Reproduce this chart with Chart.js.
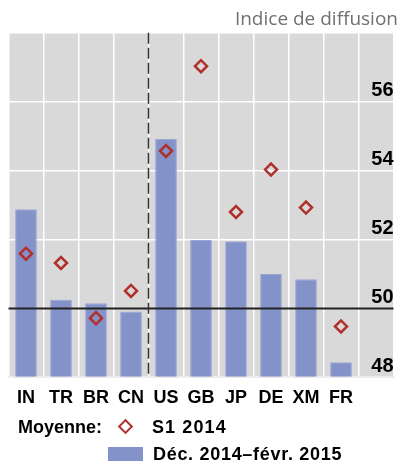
<!DOCTYPE html>
<html>
<head>
<meta charset="utf-8">
<script src="https://cdn.jsdelivr.net/npm/chart.js@4"></script>
<style>
  html, body { margin: 0; padding: 0; background: #fff; }
  #wrap { position: relative; width: 402px; height: 461px; overflow: hidden; }
  #wrap canvas { position: absolute; left: 0; top: 0; }
  .leg { position: absolute; font: bold 18px "Liberation Sans", Arial, sans-serif; line-height: 18px; color: #000; white-space: nowrap; }
  .diam { position: absolute; width: 7px; height: 7px; border: 2.5px solid #b0302c; transform: rotate(45deg); }
  .box { position: absolute; width: 35px; height: 16px; background: #8392c9; }
</style>
</head>
<body>
<div id="wrap">
  <canvas id="grafico" width="402" height="461"></canvas>
  <div class="leg" style="left:18px; top:418px;">Moyenne:</div>
  <div class="diam" style="left:120px; top:421px;"></div>
  <div class="leg" style="left:152px; top:418px; letter-spacing:1.1px;">S1 2014</div>
  <div class="box" style="left:108px; top:447px;"></div>
  <div class="leg" style="left:153px; top:445px; letter-spacing:0.7px;">Déc. 2014–févr. 2015</div>
</div>
<script>
// Données
const pays = ['IN', 'TR', 'BR', 'CN', 'US', 'GB', 'JP', 'DE', 'XM', 'FR'];
const decFev = [52.88, 50.25, 50.15, 49.91, 54.92, 51.99, 51.95, 51.0, 50.85, 48.44];
const s1_2014 = [51.59, 51.32, 49.72, 50.51, 54.57, 57.03, 52.8, 54.03, 52.93, 49.48];
const ticksY = [48, 50, 52, 54, 56];

// une colonne vide à droite pour les étiquettes de l'axe
const etiquettes = pays.concat(['']);

const fondGris = {
    id: 'fondGris',
    beforeDraw(chart) {
        const a = chart.chartArea;
        const ctx = chart.ctx;
        ctx.save();
        ctx.fillStyle = '#d9d9d9';
        ctx.fillRect(a.left, a.top, a.right - a.left, a.bottom - a.top);
        ctx.restore();
    },
    afterDatasetsDraw(chart) {
        const a = chart.chartArea;
        const ctx = chart.ctx;
        const x = chart.scales.x;
        const y = chart.scales.y;
        ctx.save();
        // ligne des 50
        const y50 = y.getPixelForValue(50);
        ctx.strokeStyle = '#222';
        ctx.lineWidth = 2;
        ctx.beginPath();
        ctx.moveTo(a.left, y50);
        ctx.lineTo(a.right, y50);
        ctx.stroke();
        // séparation émergents / avancés
        const xs = (x.getPixelForValue(3) + x.getPixelForValue(4)) / 2;
        ctx.strokeStyle = '#333';
        ctx.lineWidth = 1.5;
        ctx.setLineDash([11, 4]);
        ctx.beginPath();
        ctx.moveTo(xs, a.top);
        ctx.lineTo(xs, a.bottom);
        ctx.stroke();
        ctx.restore();
    }
};

new Chart(document.getElementById('grafico').getContext('2d'), {
    type: 'bar',
    data: {
        labels: etiquettes,
        datasets: [
            {
                type: 'line',
                label: 'S1 2014',
                data: s1_2014,
                showLine: false,
                pointStyle: 'rectRot',
                pointRadius: 6,
                pointBorderWidth: 2.5,
                pointBorderColor: '#b0302c',
                pointBackgroundColor: 'rgba(0,0,0,0)',
                order: 0
            },
            {
                label: 'Déc. 2014–févr. 2015',
                data: decFev,
                backgroundColor: '#8392c9',
                borderColor: '#9aa6d6',
                borderWidth: 1,
                categoryPercentage: 1,
                barPercentage: 0.62,
                base: 48,
                order: 1
            }
        ]
    },
    options: {
        responsive: false,
        animation: false,
        layout: { padding: { left: 7, right: 4, bottom: 42 } },
        plugins: {
            legend: { display: false },
            tooltip: { enabled: false },
            title: {
                display: true,
                text: 'Indice de diffusion',
                align: 'end',
                color: '#707070',
                font: { family: 'Open Sans', size: 19, weight: 'normal', lineHeight: 1.2 },
                padding: { top: 8, bottom: 2 }
            }
        },
        scales: {
            x: {
                offset: true,
                grid: { color: '#ffffff', lineWidth: 1.5, offset: true, drawTicks: false },
                border: { display: true, color: '#ececec', width: 2 },
                ticks: {
                    color: '#000',
                    padding: 10,
                    font: { family: 'Liberation Sans', size: 18, weight: 'bold' }
                }
            },
            y: {
                position: 'right',
                min: 48,
                max: 58,
                afterBuildTicks(scale) {
                    scale.ticks = ticksY.concat([58]).map(v => ({ value: v }));
                },
                afterFit(scale) {
                    scale.width = 1;
                },
                grid: {
                    color: ctx => (ctx.tick && ctx.tick.value === 50) ? 'rgba(0,0,0,0)' : '#ffffff',
                    lineWidth: 1.5,
                    drawTicks: false
                },
                border: { display: false },
                ticks: {
                    mirror: true,
                    padding: 0,
                    labelOffset: -11,
                    color: '#000',
                    font: { family: 'Liberation Sans', size: 20, weight: 'bold' },
                    callback: v => ticksY.includes(v) ? String(v) : ''
                }
            }
        }
    },
    plugins: [fondGris]
});
</script>
</body>
</html>
